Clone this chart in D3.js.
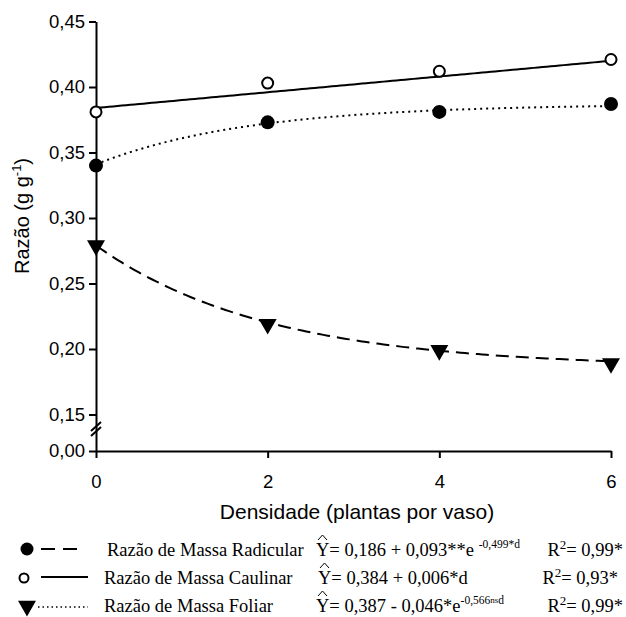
<!DOCTYPE html>
<html>
<head>
<meta charset="utf-8">
<script src="https://cdn.jsdelivr.net/npm/d3@7"></script>
<style>
  body { margin: 0; background: #fff; }
  svg text { fill: #000; }
  .axis text { font-family: "Liberation Sans", Arial, sans-serif; font-size: 18.5px; }
  .axis path, .axis line { stroke: #000; stroke-width: 2; }
  .leg { font-family: "Liberation Serif", "Times New Roman", serif; font-size: 18.5px; }
</style>
</head>
<body>
<div id="chart"></div>
<script>
// data
const densidade = [0, 2, 4, 6];
const radicular = [0.340, 0.373, 0.381, 0.387];   // filled circles
const caulinar = [0.381, 0.403, 0.412, 0.421];    // open circles
const foliar = [0.279, 0.219, 0.199, 0.189];      // triangles
const yTicks = [0, 0.15, 0.20, 0.25, 0.30, 0.35, 0.40, 0.45];
const xTicks = [0, 2, 4, 6];

// fitted equations shown in legend
const eqExpA = [0.387, -0.046, -0.566];  // curve through filled circles
const eqLin = [0.384, 0.006];            // line through open circles
const eqExpB = [0.186, 0.093, -0.499];   // curve through triangles

const width = 626, height = 617;
const svg = d3.select("#chart").append("svg")
    .attr("width", width).attr("height", height);

const x = d3.scaleLinear().domain([0, 6]).range([96, 611]);
const y = d3.scaleLinear().domain([0, 0.15, 0.45]).range([451, 414.5, 21.5]);

const fmt = d => d3.format(".2f")(d).replace(".", ",");

// axes
svg.append("g")
    .attr("class", "axis")
    .attr("transform", "translate(96,0)")
    .call(d3.axisLeft(y).tickValues(yTicks).tickFormat(fmt).tickSize(7).tickSizeOuter(0).tickPadding(4));

svg.append("g")
    .attr("class", "axis")
    .attr("transform", "translate(0,451)")
    .call(d3.axisBottom(x).tickValues(xTicks).tickFormat(d3.format("d")).tickSize(7).tickSizeOuter(0).tickPadding(17));

// axis break
[0, 5].forEach(o => {
    svg.append("line")
        .attr("x1", 91).attr("y1", 436 - o)
        .attr("x2", 101).attr("y2", 427 - o)
        .attr("stroke", "#000").attr("stroke-width", 2);
});

// axis titles
svg.append("text")
    .attr("x", 357).attr("y", 519)
    .attr("text-anchor", "middle")
    .style("font-family", "Liberation Sans, Arial, sans-serif")
    .style("font-size", "21px")
    .text("Densidade (plantas por vaso)");

const yt = svg.append("text")
    .attr("transform", "translate(29,216) rotate(-90)")
    .attr("text-anchor", "middle")
    .style("font-family", "Liberation Sans, Arial, sans-serif")
    .style("font-size", "20px");
yt.append("tspan").text("Razão (g g");
yt.append("tspan").attr("dy", -8).style("font-size", "13px").text("-1");
yt.append("tspan").attr("dy", 8).text(")");

// fitted curves
const dd = d3.range(0, 6.001, 0.05);
const line = d3.line().x(d => x(d[0])).y(d => y(d[1]));

svg.append("path")
    .datum(dd.map(d => [d, eqExpA[0] + eqExpA[1] * Math.exp(eqExpA[2] * d)]))
    .attr("d", line).attr("fill", "none").attr("stroke", "#000")
    .attr("stroke-width", 2).attr("stroke-dasharray", "2,4");

svg.append("path")
    .datum(dd.map(d => [d, eqLin[0] + eqLin[1] * d]))
    .attr("d", line).attr("fill", "none").attr("stroke", "#000")
    .attr("stroke-width", 2);

svg.append("path")
    .datum(dd.map(d => [d, eqExpB[0] + eqExpB[1] * Math.exp(eqExpB[2] * d)]))
    .attr("d", line).attr("fill", "none").attr("stroke", "#000")
    .attr("stroke-width", 2).attr("stroke-dasharray", "13,7");

// points
const tri = d3.symbol().type(d3.symbolTriangle).size(140);

svg.selectAll(".pr").data(densidade).enter().append("circle")
    .attr("cx", d => x(d)).attr("cy", (d, i) => y(radicular[i]))
    .attr("r", 7).attr("fill", "#000");

svg.selectAll(".pc").data(densidade).enter().append("circle")
    .attr("cx", d => x(d)).attr("cy", (d, i) => y(caulinar[i]))
    .attr("r", 5.5).attr("fill", "#fff").attr("stroke", "#000").attr("stroke-width", 2);

svg.selectAll(".pf").data(densidade).enter().append("path")
    .attr("d", tri)
    .attr("transform", (d, i) => `translate(${x(d)},${y(foliar[i])}) rotate(180)`)
    .attr("fill", "#000");

// legend
const rows = [
    {y: 556, name: "Razão de Massa Radicular", nx: 107, eq: "= 0,186 + 0,093**e ", sup: "-0,499*d", r2: "0,99*"},
    {y: 584, name: "Razão de Massa Caulinar", nx: 104, eq: "= 0,384 + 0,006*d", sup: "", r2: "0,93*"},
    {y: 612, name: "Razão de Massa Foliar", nx: 104, eq: "= 0,387  - 0,046*e", sup: "-0,566", sup2: "ns", sup3: "d", r2: "0,99*"}
];

const lg = svg.append("g");
lg.append("circle").attr("cx", 27).attr("cy", 549).attr("r", 6.5).attr("fill", "#000");
lg.append("line").attr("x1", 41).attr("x2", 82).attr("y1", 549).attr("y2", 549)
    .attr("stroke", "#000").attr("stroke-width", 2).attr("stroke-dasharray", "14,8");
lg.append("circle").attr("cx", 24).attr("cy", 578).attr("r", 4.5)
    .attr("fill", "#fff").attr("stroke", "#000").attr("stroke-width", 2);
lg.append("line").attr("x1", 41).attr("x2", 88).attr("y1", 577).attr("y2", 577)
    .attr("stroke", "#000").attr("stroke-width", 2);
lg.append("path").attr("d", tri).attr("transform", "translate(27,606) rotate(180)").attr("fill", "#000");
lg.append("line").attr("x1", 38).attr("x2", 88).attr("y1", 607).attr("y2", 607)
    .attr("stroke", "#000").attr("stroke-width", 1.5).attr("stroke-dasharray", "1.5,3");

rows.forEach((r, i) => {
    const ex = i === 1 ? 318 : 316;
    lg.append("text").attr("class", "leg").attr("x", r.nx).attr("y", r.y).text(r.name);
    // hat over the Y
    lg.append("path")
        .attr("d", `M${ex + 2},${r.y - 16}L${ex + 6.5},${r.y - 21}L${ex + 11},${r.y - 16}`)
        .attr("fill", "none").attr("stroke", "#000").attr("stroke-width", 1);
    const t = lg.append("text").attr("class", "leg").attr("x", ex).attr("y", r.y);
    t.append("tspan").text("Y" + r.eq);
    if (r.sup) {
        t.append("tspan").attr("dy", -8).style("font-size", "11.5px").text(r.sup);
        if (r.sup2) {
            t.append("tspan").attr("dy", -1).style("font-size", "9px").text(r.sup2);
            t.append("tspan").attr("dy", 1).style("font-size", "11.5px").text(r.sup3);
        }
    }
    const rt = lg.append("text").attr("class", "leg").attr("x", i === 1 ? 618 : 623).attr("y", r.y)
        .attr("text-anchor", "end");
    rt.append("tspan").text("R");
    rt.append("tspan").attr("dy", -7).style("font-size", "13px").text("2");
    rt.append("tspan").attr("dy", 7).text("= " + r.r2);
});
</script>
</body>
</html>
